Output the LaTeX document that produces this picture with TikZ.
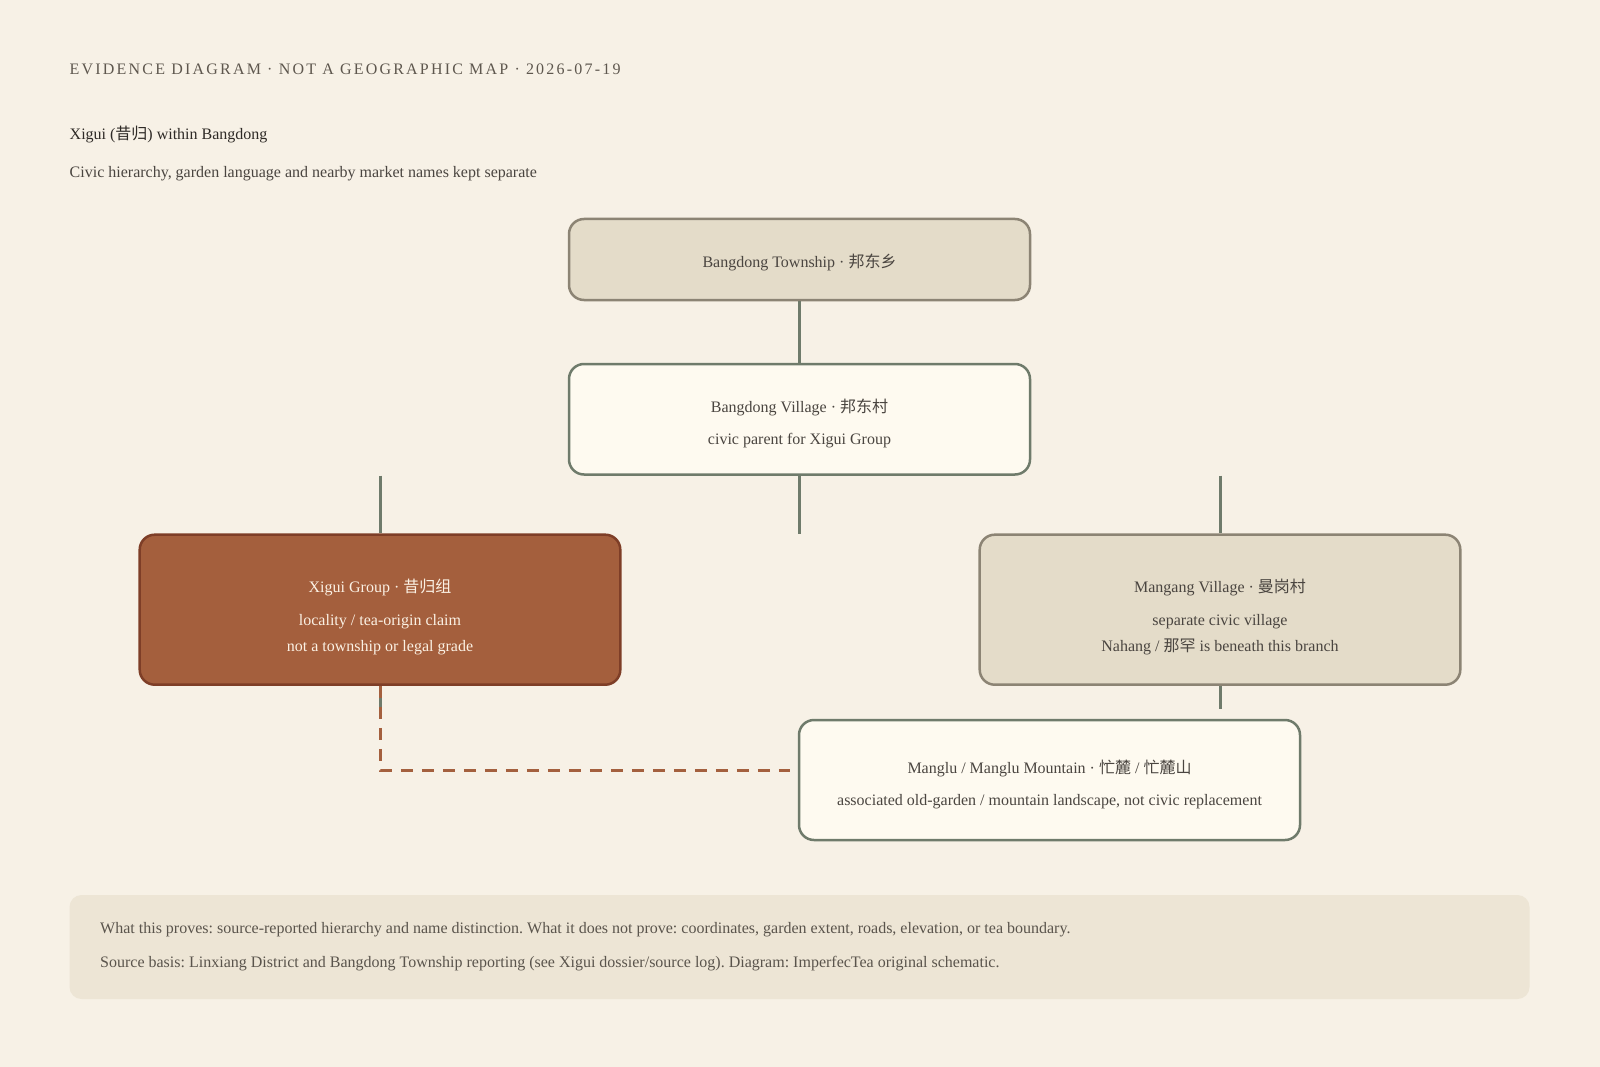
\documentclass[tikz,border=0pt]{standalone}
\usepackage{fontspec}
\setmainfont{Liberation Serif}
\newfontfamily\cjkfont{Noto Sans CJK SC}
\newfontfamily\hdrfont{Liberation Serif}[LetterSpace=13.8]
\newcommand\zhtxt[1]{{\cjkfont #1}}
\definecolor{bgc}{HTML}{F7F1E6}
\definecolor{tanfill}{HTML}{E4DCC9}
\definecolor{tanline}{HTML}{8C8474}
\definecolor{creamfill}{HTML}{FEFAF0}
\definecolor{greenline}{HTML}{6F7B6B}
\definecolor{rustfill}{HTML}{A45F3D}
\definecolor{rustline}{HTML}{7E3E27}
\definecolor{rusttext}{HTML}{FBF1E4}
\definecolor{dashc}{HTML}{A4603E}
\definecolor{footfill}{HTML}{EDE5D5}
\definecolor{inktext}{HTML}{4A4540}
\definecolor{headtext}{HTML}{5E574E}
\definecolor{titletext}{HTML}{2E2A26}
\definecolor{foottext}{HTML}{5A544C}
\tikzset{
  boxbase/.style={rectangle, rounded corners=15pt, line width=2.5pt, inner sep=0pt},
  tanbox/.style={boxbase, fill=tanfill, draw=tanline},
  creambox/.style={boxbase, fill=creamfill, draw=greenline},
  rustbox/.style={boxbase, fill=rustfill, draw=rustline},
  conn/.style={draw=greenline, line width=3pt},
  dashconn/.style={draw=dashc, line width=3pt, dash pattern=on 12pt off 9pt},
  maintext/.style={anchor=base, inner sep=0pt, text=inktext, font=\fontsize{16}{19}\selectfont},
  subtext/.style={anchor=base, inner sep=0pt, text=inktext, font=\fontsize{16}{19}\selectfont},
  rustmain/.style={maintext, text=rusttext},
  rustsub/.style={subtext, text=rusttext},
  plainleft/.style={anchor=base west, inner sep=0pt, font=\fontsize{16}{19}\selectfont},
}
\begin{document}
\frenchspacing
\begin{tikzpicture}[x=1pt,y=-1pt]
\fill[bgc] (0,0) rectangle (1600,1067);
\useasboundingbox (0,0) rectangle (1600,1067);

% header texts
\node[anchor=base west, inner sep=0pt, text=headtext, font=\hdrfont\fontsize{16}{19}\selectfont] (hdr) at (69.5,75) {EVIDENCE DIAGRAM · NOT A GEOGRAPHIC MAP · 2026-07-19};
\node[plainleft, text=titletext] (title) at (69.5,140) {Xigui (\zhtxt{昔归}) within Bangdong};
\node[plainleft, text=inktext] (subtitle) at (69.5,177.5) {Civic hierarchy, garden language and nearby market names kept separate};

% boxes
\node[tanbox, minimum width=461pt, minimum height=81pt] (town) at (799.5,259.5) {};
\node[creambox, minimum width=461pt, minimum height=110.5pt] (vill) at (799.5,419.25) {};
\node[rustbox, minimum width=480.6pt, minimum height=150pt] (xig) at (380,609.7) {};
\node[tanbox, minimum width=480.6pt, minimum height=150pt] (mang) at (1220,609.7) {};
\node[creambox, minimum width=501pt, minimum height=120pt] (manglu) at (1049.5,780) {};

% box texts
\node[maintext] (townt) at (799.5,267.5) {Bangdong Township · \zhtxt{邦东乡}};
\node[maintext] (villt1) at (799.5,412.5) {Bangdong Village · \zhtxt{邦东村}};
\node[subtext] (villt2) at (799.5,444.3) {civic parent for Xigui Group};
\node[rustmain] (xigt1) at (380,592.7) {Xigui Group · \zhtxt{昔归组}};
\node[rustsub] (xigt2) at (380,625) {locality / tea-origin claim};
\node[rustsub] (xigt3) at (380,651.7) {not a township or legal grade};
\node[maintext] (mangt1) at (1220,592.7) {Mangang Village · \zhtxt{曼岗村}};
\node[subtext] (mangt2) at (1220,625) {separate civic village};
\node[subtext] (mangt3) at (1220,651.7) {Nahang / \zhtxt{那罕} is beneath this branch};
\node[maintext] (manglut1) at (1049.5,773.3) {Manglu / Manglu Mountain · \zhtxt{忙麓} / \zhtxt{忙麓山}};
\node[subtext] (manglut2) at (1049.5,805) {associated old-garden / mountain landscape, not civic replacement};

% free ends
\coordinate (stubL) at (380,475.5);
\coordinate (stubC) at (799.5,534);
\coordinate (stubR) at (1220,475.5);
\coordinate (stubM) at (1220,709);
\coordinate (stubX) at (380,709);
\coordinate (dashEnd) at (790,770);

% connectors
\draw[conn] (town.south) -- (vill.north);
\draw[conn] (stubL) -- (xig.north);
\draw[conn] (vill.south) -- (stubC);
\draw[conn] (stubR) -- (mang.north);
\draw[conn] (mang.south) -- (stubM);
\draw[conn] (xig.south) -- (stubX);
\draw[dashconn] (xig.south) |- (dashEnd);

% footer
\node[rectangle, rounded corners=12pt, fill=footfill, minimum width=1460pt, minimum height=104pt, inner sep=0pt] (foot) at (799.5,947) {};
\node[plainleft, text=foottext] (foot1) at (100,933.3) {What this proves: source-reported hierarchy and name distinction. What it does not prove: coordinates, garden extent, roads, elevation, or tea boundary.};
\node[plainleft, text=foottext] (foot2) at (100,967.3) {Source basis: Linxiang District and Bangdong Township reporting (see Xigui dossier/source log). Diagram: ImperfecTea original schematic.};
\end{tikzpicture}
\end{document}
